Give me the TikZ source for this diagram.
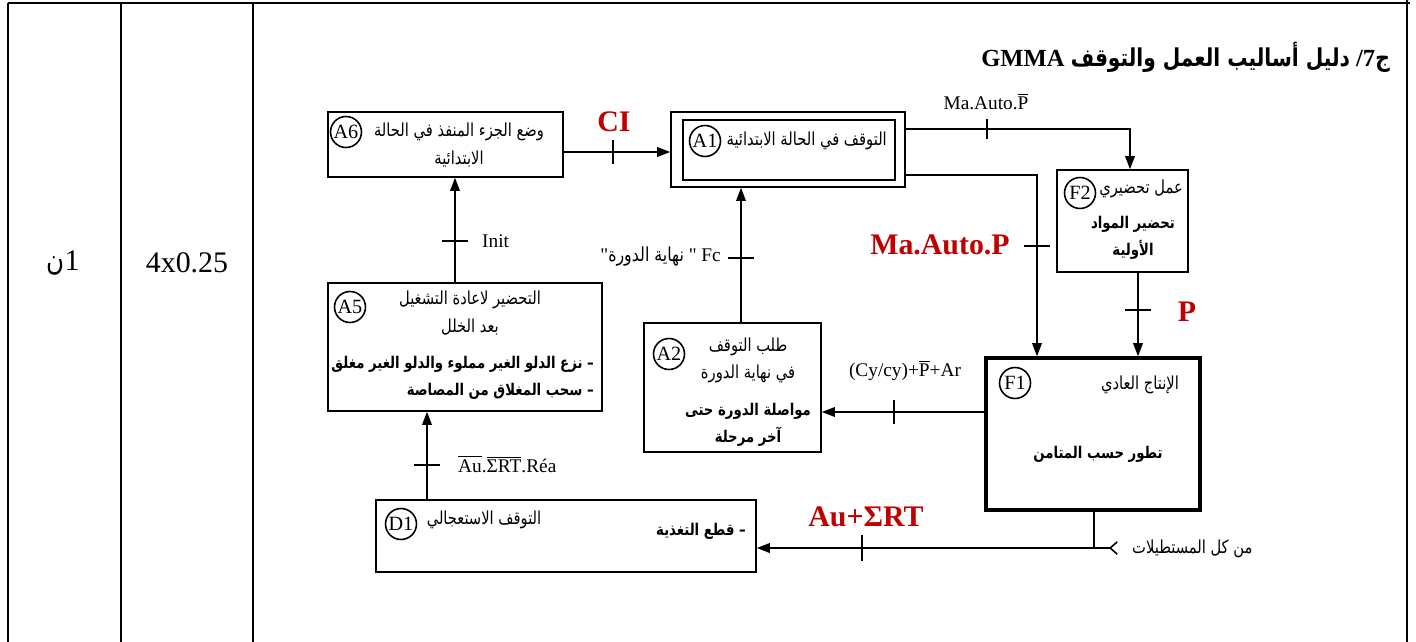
\documentclass[tikz,border=0pt]{standalone}
\usepackage{fontspec}
\setmainfont{Liberation Serif}
\newfontfamily\quotefont{Liberation Serif}
\newfontfamily\arabicfont[Script=Arabic,FakeStretch=0.82]{DejaVu Sans}
\TeXXeTstate=1
\usetikzlibrary{arrows.meta}
\definecolor{gmmared}{RGB}{192,0,0}
\newcommand{\artxt}[1]{{\arabicfont\beginR #1\endR}}
\newcommand{\guill}{{\quotefont"}}
\tikzset{
  etat/.style={draw, line width=0.9pt, inner sep=0pt},
  num/.style={draw, circle, fill=white, line width=0.9pt, minimum size=0.62cm, inner sep=0pt, font=\fontsize{11.5}{11.5}\selectfont},
  lien/.style={line width=0.9pt},
  fleche/.style={line width=0.9pt, -{Triangle[length=7.5pt,width=5.5pt]}},
  coupe/.style={line width=0.9pt},
  cond/.style={font=\fontsize{11}{12}\selectfont},
  condrouge/.style={font=\fontsize{17}{17}\selectfont\bfseries, text=gmmared},
  texte/.style={font=\fontsize{10.2}{15.5}\selectfont, align=center},
  gras/.style={font=\fontsize{9.2}{15}\selectfont\bfseries, align=center},
}
\begin{document}
\begin{tikzpicture}[x=0.02cm, y=-0.02cm]
    \useasboundingbox (0,0) rectangle (1416,642);
    % tableau
    \draw[line width=1.5pt] (8,3) -- (1410,3);
    \foreach \x in {8,121,253} {
        \draw[line width=1.5pt] (\x,3) -- (\x,642);
    }
    \draw[line width=1.5pt] (1407,0) -- (1407,642);
    \node[font=\fontsize{17}{17}\selectfont] (note) at (63,263) {{\arabicfont ن}1};
    \node[font=\fontsize{17}{17}\selectfont] (bareme) at (187,263) {4x0.25};
    \node[anchor=east, font=\fontsize{14}{14}\selectfont\bfseries] (titre) at (1396,57)
        {GMMA \artxt{دليل أساليب العمل والتوقف} /7{\arabicfont ج}};

    % rectangles
    \node[etat, minimum width=4.7cm, minimum height=1.3cm] (a6) at (445.5,144.5) {};
    \node[etat, minimum width=4.68cm, minimum height=1.5cm] (a1) at (788,149.5) {};
    \node[etat, minimum width=4.24cm, minimum height=1.2cm] (a1in) at (789,150) {};
    \node[etat, minimum width=2.62cm, minimum height=2.04cm] (f2) at (1122.5,221) {};
    \node[etat, minimum width=5.48cm, minimum height=2.56cm] (a5) at (465,347) {};
    \node[etat, minimum width=3.54cm, minimum height=2.58cm] (a2) at (732.5,387.5) {};
    \node[etat, line width=2pt, minimum width=4.28cm, minimum height=3.04cm] (f1) at (1093,434) {};
    \node[etat, minimum width=7.6cm, minimum height=1.44cm] (d1) at (566,536) {};

    % contenus
    \node[num] (a6n) at (346,132) {A6};
    \node[texte] (a6t) at (459,145) {\artxt{وضع الجزء المنفذ في الحالة}\\\artxt{الابتدائية}};
    \node[num] (a1n) at (705,141) {A1};
    \node[texte, anchor=east] (a1t) at (893,141) {\artxt{التوقف في الحالة الابتدائية}};
    \node[num] (f2n) at (1080,193) {F2};
    \node[texte, anchor=east] (f2t) at (1189,189) {\artxt{عمل تحضيري}};
    \node[gras] (f2a) at (1133,238) {\artxt{تحضير المواد}\\\artxt{الأولية}};
    \node[num] (a5n) at (350,307) {A5};
    \node[texte] (a5t) at (470,313) {\artxt{التحضير لاعادة التشغيل}\\\artxt{بعد الخلل}};
    \node[gras, align=right, anchor=east] (a5a) at (600,378)
        {\artxt{– نزع الدلو الغير مملوء والدلو الغير مغلق}\\\artxt{– سحب المغلاق من المصاصة}};
    \node[num] (a2n) at (669,354) {A2};
    \node[texte] (a2t) at (748,360) {\artxt{طلب التوقف}\\\artxt{في نهاية الدورة}};
    \node[gras] (a2a) at (748,425) {\artxt{مواصلة الدورة حتى}\\\artxt{آخر مرحلة}};
    \node[num] (f1n) at (1015,383) {F1};
    \node[texte] (f1t) at (1140,385) {\artxt{الإنتاج العادي}};
    \node[gras] (f1a) at (1098,454) {\artxt{تطور حسب المتامن}};
    \node[num] (d1n) at (401,524) {D1};
    \node[texte] (d1t) at (484,520) {\artxt{التوقف الاستعجالي}};
    \node[gras, anchor=east] (d1a) at (752,531) {\artxt{– قطع التغذية}};

    % liaisons
    \draw[fleche] (a6.east |- 0,152) -- (a1.west |- 0,152);
    \draw[coupe] (613,140) -- (613,164);
    \node[condrouge] (ci) at (614,122) {CI};

    \draw[fleche] (a1.east |- 0,129) -| (f2.north -| 1130,0);
    \draw[coupe] (987,119) -- (987,139);
    \node[cond] (maautopb) at (986,102) {Ma.Auto.$\overline{\mbox{P}}$};

    \draw[fleche] (a1.east |- 0,175) -| (f1.north -| 1037,0);
    \draw[coupe] (1024,246) -- (1050,246);
    \node[condrouge] (maautop) at (940,245) {Ma.Auto.P};

    \draw[fleche] (f2.south -| 1138,0) -- (f1.north -| 1138,0);
    \draw[coupe] (1125,310) -- (1151,310);
    \node[condrouge] (p) at (1187,312) {P};

    \draw[fleche] (f1.west |- 0,412) -- (a2.east |- 0,412);
    \draw[coupe] (894,400) -- (894,424);
    \node[cond] (cycy) at (905,370) {(Cy/cy)+$\overline{\mbox{P}}$+Ar};

    \draw[fleche] (a2.north -| 741,0) -- (a1.south -| 741,0);
    \draw[coupe] (728,258) -- (754,258);
    \node[cond, anchor=east] (fc) at (727,257) {\guill\artxt{نهاية الدورة} \guill{} Fc};

    \draw[fleche] (a5.north -| 455,0) -- (a6.south -| 455,0);
    \draw[coupe] (442,241) -- (468,241);
    \node[cond, anchor=west] (init) at (476,241) {Init};

    \draw[fleche] (d1.north -| 427,0) -- (a5.south -| 427,0);
    \draw[coupe] (414,465) -- (440,465);
    \node[cond, anchor=west] (rea) at (452,464) {$\overline{\mbox{Au}}$.$\overline{\mbox{ΣRT}}$.Réa};

    \coordinate (jonc) at (1094,548);
    \coordinate (autres) at (1118,548);
    \draw[lien] (f1.south -| jonc) -- (jonc);
    \draw[line width=0.9pt, {Straight Barb[reversed,length=4pt,width=7pt]}-{Triangle[length=7.5pt,width=5.5pt]}] (autres) -- (d1.east |- autres);
    \draw[coupe] (862,535) -- (862,561);
    \node[condrouge] (auert) at (866,517) {Au+ΣRT};
    \node[texte, anchor=west] (tous) at (1126,549) {\artxt{من كل المستطيلات}};
\end{tikzpicture}
\end{document}
